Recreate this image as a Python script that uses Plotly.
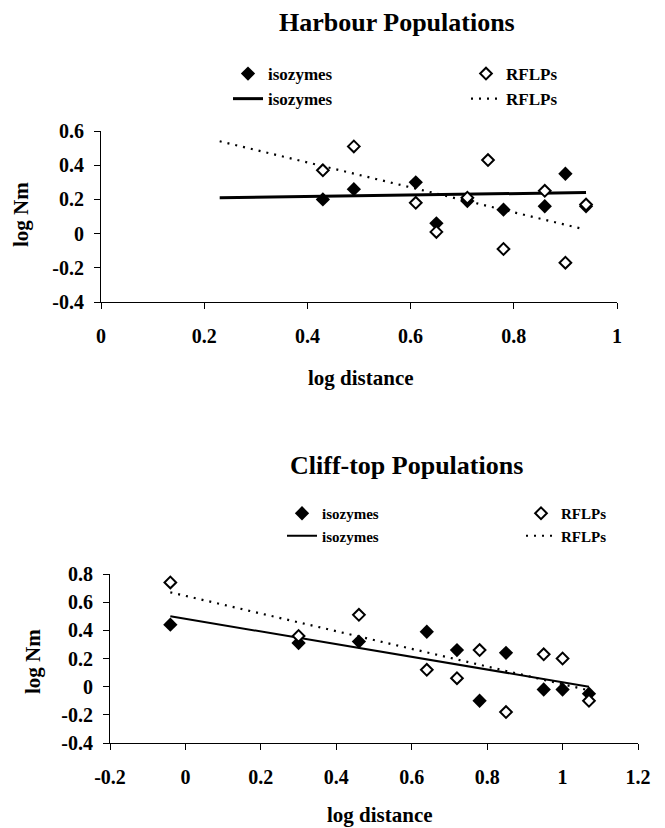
import plotly.graph_objects as go

# ---------------- data ----------------
harbour_iso_x = [0.43, 0.49, 0.61, 0.65, 0.71, 0.78, 0.86, 0.90, 0.94]
harbour_iso_y = [0.20, 0.26, 0.30, 0.06, 0.19, 0.14, 0.16, 0.35, 0.16]
harbour_rflp_x = [0.43, 0.49, 0.61, 0.65, 0.71, 0.75, 0.78, 0.86, 0.90, 0.94]
harbour_rflp_y = [0.37, 0.51, 0.18, 0.01, 0.21, 0.43, -0.09, 0.25, -0.17, 0.17]
harbour_iso_fit_x = [0.23, 0.94]
harbour_iso_fit_y = [0.21, 0.24]
harbour_rflp_fit_x = [0.23, 0.93]
harbour_rflp_fit_y = [0.54, 0.03]

cliff_x = [-0.04, 0.30, 0.46, 0.64, 0.72, 0.78, 0.85, 0.95, 1.00, 1.07]
cliff_iso_y = [0.44, 0.31, 0.32, 0.39, 0.26, -0.10, 0.24, -0.02, -0.02, -0.05]
cliff_rflp_y = [0.74, 0.36, 0.51, 0.12, 0.06, 0.26, -0.18, 0.23, 0.20, -0.10]
cliff_iso_fit_x = [-0.04, 1.07]
cliff_iso_fit_y = [0.50, 0.00]
cliff_rflp_fit_x = [-0.04, 1.06]
cliff_rflp_fit_y = [0.67, -0.02]

harbour_xticks = [0, 0.2, 0.4, 0.6, 0.8, 1]
harbour_xtext = ["0", "0.2", "0.4", "0.6", "0.8", "1"]
harbour_yticks = [-0.4, -0.2, 0, 0.2, 0.4, 0.6]
harbour_ytext = ["-0.4", "-0.2", "0", "0.2", "0.4", "0.6"]
cliff_xticks = [-0.2, 0, 0.2, 0.4, 0.6, 0.8, 1, 1.2]
cliff_xtext = ["-0.2", "0", "0.2", "0.4", "0.6", "0.8", "1", "1.2"]
cliff_yticks = [-0.4, -0.2, 0, 0.2, 0.4, 0.6, 0.8]
cliff_ytext = ["-0.4", "-0.2", "0", "0.2", "0.4", "0.6", "0.8"]

# page body has an 8px default margin: the figure is drawn from (8, 8)
OFF = 8
W, H = 665 - OFF, 828 - OFF
FONT = "Liberation Serif"


def px_x(p):
    return (p - OFF) / W


def px_y(p):
    return 1 - (p - OFF) / H


fig = go.Figure()


def add_panel(xa, ya, leg_iso, leg_rflp, iso_x, iso_y, rflp_x, rflp_y,
              ifx, ify, rfx, rfy, iso_lw):
    # lines first so markers sit on top
    fig.add_trace(go.Scatter(
        x=ifx, y=ify, mode="lines", name="isozymes", legendrank=2,
        line=dict(color="black", width=iso_lw),
        xaxis=xa, yaxis=ya, legend=leg_iso))
    fig.add_trace(go.Scatter(
        x=rfx, y=rfy, mode="lines", name="RFLPs", legendrank=2,
        line=dict(color="black", width=2.2, dash="2px,6px"),
        xaxis=xa, yaxis=ya, legend=leg_rflp))
    fig.add_trace(go.Scatter(
        x=iso_x, y=iso_y, mode="markers", name="isozymes", legendrank=1,
        marker=dict(symbol="diamond", size=11, color="black"),
        xaxis=xa, yaxis=ya, legend=leg_iso))
    fig.add_trace(go.Scatter(
        x=rflp_x, y=rflp_y, mode="markers", name="RFLPs", legendrank=1,
        marker=dict(symbol="diamond", size=9, color="white",
                    line=dict(color="black", width=2)),
        xaxis=xa, yaxis=ya, legend=leg_rflp))


add_panel("x", "y", "legend", "legend2", harbour_iso_x, harbour_iso_y,
          harbour_rflp_x, harbour_rflp_y,
          harbour_iso_fit_x, harbour_iso_fit_y,
          harbour_rflp_fit_x, harbour_rflp_fit_y, 3)
add_panel("x2", "y2", "legend3", "legend4", cliff_x, cliff_iso_y,
          cliff_x, cliff_rflp_y,
          cliff_iso_fit_x, cliff_iso_fit_y,
          cliff_rflp_fit_x, cliff_rflp_fit_y, 2)

tickfont = dict(family=FONT, size=20, color="black", weight="bold")

common_ax = dict(showline=True, linecolor="black", linewidth=1.2,
                 showgrid=False, zeroline=False, ticks="outside",
                 ticklen=6, tickwidth=1.2, tickcolor="black",
                 tickfont=tickfont, fixedrange=True, automargin=False)


def legend_at(left_px, top_px, size):
    return dict(orientation="v", x=px_x(left_px), y=px_y(top_px),
                xref="paper", yref="paper", xanchor="left", yanchor="top",
                bgcolor="rgba(0,0,0,0)", borderwidth=0,
                font=dict(family=FONT, size=size, color="black", weight="bold"),
                traceorder="normal", itemclick=False, itemdoubleclick=False)


def ann(text, x, y, size, angle=0):
    return dict(text=text, x=px_x(x), y=px_y(y), xref="paper", yref="paper",
                xanchor="center", yanchor="middle", showarrow=False,
                textangle=angle,
                font=dict(family=FONT, size=size, color="black"))


fig.update_layout(
    width=W, height=H,
    margin=dict(l=0, r=0, t=0, b=0, autoexpand=False),
    paper_bgcolor="white", plot_bgcolor="white",
    showlegend=True,
    xaxis=dict(domain=[px_x(101), px_x(617)], range=[0, 1],
               tickvals=harbour_xticks, ticktext=harbour_xtext,
               ticklabelstandoff=10, anchor="y", **common_ax),
    yaxis=dict(domain=[px_y(302), px_y(131)], range=[-0.4, 0.6],
               tickvals=harbour_yticks, ticktext=harbour_ytext,
               ticklabelstandoff=6, anchor="x", **common_ax),
    xaxis2=dict(domain=[px_x(110), px_x(638)], range=[-0.2, 1.2],
                tickvals=cliff_xticks, ticktext=cliff_xtext,
                ticklabelstandoff=10, anchor="y2", **common_ax),
    yaxis2=dict(domain=[px_y(743), px_y(574)], range=[-0.4, 0.8],
                tickvals=cliff_yticks, ticktext=cliff_ytext,
                ticklabelstandoff=6, anchor="x2", **common_ax),
    legend=legend_at(228, 56, 17),
    legend2=legend_at(466, 56, 17),
    legend3=legend_at(282, 497, 15),
    legend4=legend_at(521, 497, 15),
    annotations=[
        ann("<b>Harbour Populations</b>", 397, 22, 26),
        ann("<b>Cliff-top Populations</b>", 406, 465, 26),
        ann("<b>log Nm</b>", 21, 215, 21, -90),
        ann("<b>log distance</b>", 361, 378, 21),
        ann("<b>log Nm</b>", 33, 662, 21, -90),
        ann("<b>log distance</b>", 380, 815, 21),
    ],
)

fig.write_html("out.html")
